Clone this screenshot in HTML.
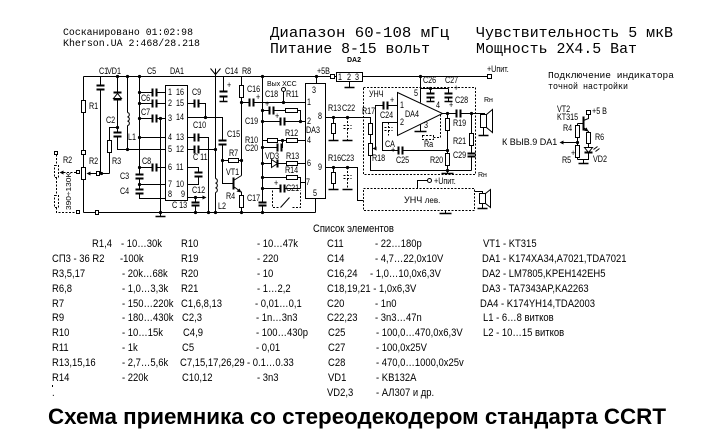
<!DOCTYPE html>
<html><head><meta charset="utf-8"><style>
html,body{margin:0;padding:0;background:#fff}
svg{display:block}
text{fill:#000;font-family:"Liberation Sans","DejaVu Sans",sans-serif}
.t{font-size:9px;transform:scaleX(.8);transform-box:fill-box;transform-origin:0 0}
.u{font-size:9px}
.x{font-size:7px}
.s{font-size:11px;transform:scaleX(.86);transform-box:fill-box;transform-origin:0 0}
.m{font-family:"Liberation Mono","DejaVu Sans Mono",monospace}
</style></head><body>
<svg width="724" height="435" viewBox="0 0 724 435" xmlns="http://www.w3.org/2000/svg">
<rect width="724" height="435" fill="#fff"/>
<!-- header -->
<text class="m" x="63" y="35" font-size="10" textLength="130" lengthAdjust="spacingAndGlyphs">Сосканировано 01:02:98</text>
<text class="m" x="63" y="46" font-size="10" textLength="137" lengthAdjust="spacingAndGlyphs">Kherson.UA 2:468/28.218</text>
<text class="m" x="270" y="37" font-size="14.8" textLength="179" lengthAdjust="spacingAndGlyphs">Диапазон  60-108 мГц</text>
<text class="m" x="476" y="37" font-size="14.8" textLength="197" lengthAdjust="spacingAndGlyphs">Чувствительность 5 мкВ</text>
<text class="m" x="270" y="53" font-size="14.8" textLength="160" lengthAdjust="spacingAndGlyphs">Питание 8-15 вольт</text>
<text class="m" x="476" y="53" font-size="14.8" textLength="161" lengthAdjust="spacingAndGlyphs">Мощность 2Х4.5 Ват</text>
<text class="m" x="548" y="78" font-size="9.5" textLength="126" lengthAdjust="spacingAndGlyphs">Подключение индикатора</text>
<text class="m" x="548" y="89" font-size="9.5" textLength="80" lengthAdjust="spacingAndGlyphs">точной настройки</text>

<g transform="translate(0.5,0.5)" stroke="#000" fill="none" stroke-width="1">
<!-- wires -->
<path d="M83,76H330 M334,76H336 M362,76H487
M83,76V212 M83,212H315
M100,76V85 M100,89V173 M90,173H96 M99,173H109
M117,76V91 M117,99V132 M117,136V149H165 M117,127H109V173
M127,76V112 M127,125V149
M139,76V174 M139,178V189 M139,193V198H165
M139,92H152 M156,92H165 M139,103H152 M156,103H165 M139,118H152 M156,118H165 M160,118V216
M139,137H165 M139,167H152 M156,167H165 M139,184H165
M187,103H194 M198,103H205V117 M187,117H222V140 M187,137H194 M198,137H208V212
M187,149H194 M198,149H215 M187,167H198V172 M198,176V184H187 M187,197H203 M195,197V202 M195,205V212
M215,68V76 M210,68L215,74 M220,68L215,74 M215,76V178 M215,192V212
M223,76V91 M223,96V101
M241,76V85 M241,97V175 M241,102H249 M253,102H305 M283,91V102
M262,76V202 M262,205V212
M262,110H269 M273,110H285 M297,110H300V121
M262,121H280 M284,121H305
M262,140H267 M277,140H286 M297,140H305
M262,147H277 M281,147H282V140
M262,163H271 M277,163H286 M297,163H305
M262,177H286 M297,177H300V188 M300,182H305
M262,188H280 M284,188H300
M316,76V83 M315,198V212
M222,144V183H233 M222,160H228 M238,160H241 M233,180L241,175 M233,186L240,191 M241,191V195 M241,207V212
M325,117H370V123 M333,117V123 M333,133V140 M370,134V143 M370,155V170H471
M325,167H357V200H363 M333,167V172 M333,183V189
M349,81V87
M420,76V102 M420,88H448 M430,88V93 M430,97V101 M448,88V93 M448,97V101 M420,124V131
M397,105H387 M383,105H375V148
M397,122H382V150H398 M402,150H447
M442,113H456 M460,113H484V114 M447,113V118 M447,130V153 M447,165V173 M471,113V133 M471,145V153 M471,156V170
M483,127V135
M427,180H417V188 M445,210V213 M474,191H482V193 M482,203V208
M588,114V118L583,120 M583,127L588,131V132 M588,143V147 M588,152V159H577 M577,157V159 M583,159V163
M577,123H583 M577,123V125 M577,137V145 M577,142H563"/>
<!-- ground bars -->
<path stroke-width="1.5" d="M328,140H338 M342,140H352 M328,189H338 M342,189H352 M344,87H354 M426,101H434 M444,101H452 M414,131H426 M441,173H453 M478,135H488 M439,213H451 M477,208H487 M578,163H588 M155,216H165 M219,101H227"/>
<!-- capacitor plates -->
<path stroke-width="2" d="M96,85H104 M96,89H104 M113,132H121 M113,136H121
M152,88V96 M156,88V96 M152,99V107 M156,99V107 M152,114V122 M156,114V122 M152,163V171 M156,163V171
M135,174H143 M135,178H143 M135,189H143 M135,193H143
M194,99V107 M198,99V107 M194,133V141 M198,133V141 M194,145V153 M198,145V153
M194,172H202 M194,176H202 M191,202H199 M191,205H199
M218,140H226 M218,144H226 M219,91H227 M219,96H227
M249,98V106 M253,98V106 M269,106V114 M273,106V114 M280,117V125 M284,117V125 M277,143V151 M281,143V151 M280,184V192 M284,184V192
M258,202H266 M258,205H266
M426,93H434 M426,97H434 M444,93H452 M444,97H452
M383,101V109 M387,101V109 M398,146V154 M402,146V154 M456,109V117 M460,109V117 M467,153H475 M467,156H475
M233,177V189 M583,116V130 M277,159V167 M113,92H121 M113,99H121 M584,152H592"/>
<!-- resistors -->
<g fill="#fff">
<rect x="81" y="100" width="4" height="12"/><rect x="81" y="167" width="4" height="12"/><rect x="107" y="140" width="4" height="12"/>
<rect x="239" y="85" width="4" height="12"/><rect x="228" y="158" width="10" height="4"/><rect x="239" y="195" width="4" height="12"/>
<rect x="285" y="108" width="12" height="4"/><rect x="267" y="138" width="10" height="4"/><rect x="286" y="138" width="11" height="4"/>
<rect x="286" y="161" width="11" height="4"/><rect x="286" y="175" width="11" height="4"/>
<rect x="331" y="123" width="4" height="10"/><rect x="331" y="172" width="4" height="11"/><rect x="368" y="123" width="4" height="11"/><rect x="368" y="143" width="4" height="12"/>
<rect x="445" y="118" width="4" height="12"/><rect x="445" y="153" width="4" height="12"/><rect x="469" y="133" width="4" height="12"/>
<rect x="575" y="125" width="4" height="12"/><rect x="575" y="145" width="4" height="12"/><rect x="586" y="132" width="4" height="11"/>
<!-- boxes -->
<rect x="165" y="85" width="22" height="115"/>
<rect x="305" y="83" width="20" height="115"/>
<rect x="336" y="72" width="26" height="9"/>
<polygon points="397,92 442,113 397,135"/>
<rect x="480" y="114" width="6" height="13"/><polygon points="486,114 492,109 492,132 486,127"/>
<rect x="479" y="193" width="6" height="10"/><polygon points="485,193 490,189 490,207 485,203"/>
<!-- small squares -->
<rect x="330" y="74" width="4" height="4"/><rect x="487" y="74" width="4" height="4"/><rect x="81" y="150" width="4" height="4"/>
<rect x="96" y="171" width="3" height="4"/><rect x="95" y="210" width="3" height="4"/><rect x="586" y="110" width="4" height="4"/>
<rect x="54" y="151" width="3" height="3"/><rect x="76" y="170" width="3" height="3"/><rect x="76" y="210" width="3" height="3"/>
<circle cx="283" cy="89" r="2"/><circle cx="429" cy="180" r="2"/>
</g>
<!-- coils -->
<path d="M127,112a2.2,2.2 0 0 1 0,4.33a2.2,2.2 0 0 1 0,4.33a2.2,2.2 0 0 1 0,4.34 M215,178a2.4,2.4 0 0 1 0,4.67a2.4,2.4 0 0 1 0,4.67a2.4,2.4 0 0 1 0,4.66"/>
<!-- diodes -->
<polygon points="113,98 121,98 117,93"/>
<polygon points="271,159 271,167 277,163"/>
<polygon points="584,147 592,147 588,152"/>
<path d="M593,149L597,146 M595,151L599,148"/>
<!-- switch -->
<path d="M280,207L289,197"/>
<!-- dashed -->
<g stroke-dasharray="2,1.5">
<path d="M56,154V165 M56,177V195 M56,207V212H76 M63,172H76"/>
<rect x="54" y="165" width="4" height="12"/><rect x="54" y="195" width="4" height="12"/>
<path d="M347,117V125 M347,128V140 M343,125H351 M343,128H351 M347,167V175 M347,178V189 M343,175H351 M343,178H351"/>
<path d="M388,122V127 M384,127H392 M384,130H392 M388,130V135"/>
<rect x="422" y="135" width="11" height="4"/><path d="M433,137H440V114"/>
<path d="M272,190V207H279 M292,207H300V190"/>
<rect x="363" y="87" width="112" height="87"/>
<rect x="363" y="188" width="111" height="22"/>
</g>
</g>
<!-- dots and arrows -->
<g fill="#000" transform="translate(0.5,0.5)">
<circle cx="117" cy="76" r="1.6"/><circle cx="127" cy="76" r="1.6"/><circle cx="139" cy="76" r="1.6"/><circle cx="262" cy="76" r="1.6"/><circle cx="316" cy="76" r="1.6"/><circle cx="420" cy="76" r="1.6"/>
<circle cx="117" cy="127" r="1.6"/><circle cx="127" cy="149" r="1.6"/><circle cx="139" cy="92" r="1.6"/><circle cx="139" cy="103" r="1.6"/><circle cx="139" cy="118" r="1.6"/><circle cx="139" cy="137" r="1.6"/><circle cx="139" cy="167" r="1.6"/><circle cx="139" cy="184" r="1.6"/>
<circle cx="160" cy="118" r="1.6"/><circle cx="101" cy="173" r="1.6"/><circle cx="205" cy="117" r="1.6"/><circle cx="215" cy="149" r="1.6"/><circle cx="195" cy="197" r="1.6"/>
<circle cx="195" cy="212" r="1.6"/><circle cx="208" cy="212" r="1.6"/><circle cx="215" cy="212" r="1.6"/><circle cx="241" cy="212" r="1.6"/><circle cx="262" cy="212" r="1.6"/><circle cx="160" cy="212" r="1.6"/>
<circle cx="241" cy="102" r="1.6"/><circle cx="283" cy="102" r="1.6"/><circle cx="241" cy="160" r="1.6"/><circle cx="222" cy="160" r="1.6"/>
<circle cx="262" cy="110" r="1.6"/><circle cx="262" cy="121" r="1.6"/><circle cx="262" cy="147" r="1.6"/><circle cx="262" cy="163" r="1.6"/><circle cx="262" cy="177" r="1.6"/><circle cx="262" cy="188" r="1.6"/>
<circle cx="300" cy="121" r="1.6"/><circle cx="282" cy="140" r="1.6"/><circle cx="333" cy="117" r="1.6"/><circle cx="347" cy="117" r="1.6"/><circle cx="333" cy="167" r="1.6"/><circle cx="347" cy="167" r="1.6"/>
<circle cx="430" cy="88" r="1.6"/><circle cx="447" cy="113" r="1.6"/><circle cx="471" cy="113" r="1.6"/><circle cx="447" cy="150" r="1.6"/><circle cx="447" cy="170" r="1.6"/><circle cx="577" cy="142" r="1.6"/>
<polygon points="86,173 90,171 90,175"/>
<polygon points="59,172 63,170 63,174"/>
<polygon points="206,197 202,195 202,199"/>
<polygon points="241,192 236,191 239,188"/>
<polygon points="372,148 376,146 376,150"/>
<polygon points="588,131 583,130 586,127"/>
<polygon points="559,142 563,140 563,144"/>
</g>

<!-- schematic labels -->
<g>
<text class="t" x="99" y="74">C1</text><text class="t" x="107" y="74">VD1</text><text class="t" x="147" y="74">C5</text><text class="t" x="170" y="74">DA1</text>
<text class="t" x="225" y="74">C14</text><text class="t" x="242" y="74">R8</text><text class="t" x="317" y="74">+5В</text>
<text class="t" x="89" y="109">R1</text><text class="t" x="106" y="123">C2</text><text class="t" x="89" y="164">R2</text><text class="t" x="112" y="164">R3</text>
<text class="t" x="141" y="101">C6</text><text class="t" x="141" y="115">C7</text><text class="t" x="128" y="140">L1</text><text class="t" x="142" y="164">C8</text>
<text class="t" x="120" y="179">C3</text><text class="t" x="120" y="194">C4</text>
<text class="t" x="63" y="163">R2</text>
<text class="x" transform="translate(71,210) rotate(-90)" textLength="38" lengthAdjust="spacingAndGlyphs">390÷130K</text>
<text class="t" x="168" y="95">1</text><text class="t" x="168" y="106">2</text><text class="t" x="168" y="121">3</text><text class="t" x="168" y="140">4</text>
<text class="t" x="168" y="152">5</text><text class="t" x="168" y="170">6</text><text class="t" x="168" y="187">7</text><text class="t" x="168" y="197">8</text>
<text class="t" x="176" y="95">16</text><text class="t" x="176" y="106">15</text><text class="t" x="176" y="120">14</text><text class="t" x="176" y="140">13</text>
<text class="t" x="176" y="152">12</text><text class="t" x="176" y="170">11</text><text class="t" x="176" y="187">10</text><text class="t" x="181" y="197">9</text>
<text class="t" x="192" y="95">C9</text><text class="t" x="193" y="128">C10</text><text class="t" x="193" y="160">C 11</text><text class="t" x="192" y="193">C12</text>
<text class="t" x="172" y="208">C 13</text><text class="t" x="218" y="209">L2</text>
<text class="t" x="227" y="88">+</text>
<text class="t" x="227" y="137">C15</text><text class="t" x="229" y="156">R7</text><text class="t" x="226" y="175">VT1</text><text class="t" x="226" y="199">R4</text>
<text class="t" x="247" y="92">C16</text><text class="t" x="256" y="100">+</text>
<text class="t" x="265" y="97">C18</text><text class="t" x="286" y="97">R11</text><text class="x" x="267" y="86">Вых ХСС</text>
<text class="t" x="265" y="107">+</text><text class="t" x="275" y="119">+</text><text class="t" x="274" y="186">+</text>
<text class="t" x="245" y="124">C19</text><text class="t" x="245" y="143">R10</text><text class="t" x="285" y="136">R12</text><text class="t" x="245" y="151">C20</text>
<text class="t" x="265" y="159">VD3</text><text class="t" x="286" y="159">R13</text><text class="t" x="285" y="173">R14</text><text class="t" x="286" y="191">C21</text>
<text class="t" x="247" y="201">C17</text>
<text class="t" x="312" y="93">3</text><text class="t" x="307" y="105">1</text><text class="t" x="307" y="124">2</text><text class="t" x="306" y="133">DA3</text>
<text class="t" x="307" y="143">4</text><text class="t" x="307" y="166">6</text><text class="t" x="306" y="185">7</text><text class="t" x="313" y="196">5</text>
<text class="t" x="318" y="119">8</text><text class="t" x="318" y="170">9</text>
<text class="t" x="338" y="80">1</text><text class="t" x="347" y="80">2</text><text class="t" x="355" y="80">3</text>
<text class="x" x="347" y="62" font-weight="bold">DA2</text>
<text class="t" x="328" y="111">R13</text><text class="t" x="342" y="111">C22</text><text class="t" x="328" y="161">R16</text><text class="t" x="341" y="161">C23</text>
<text class="t" x="362" y="114">R17</text><text class="t" x="372" y="161">R18</text>
<text class="t" x="369" y="97">УНЧ</text><text class="t" x="414" y="96">5</text><text class="t" x="423" y="83">C26</text><text class="t" x="445" y="83">C27</text><text class="t" x="454" y="91">+</text>
<text class="t" x="400" y="108">1</text><text class="t" x="400" y="125">2</text><text class="t" x="405" y="117">DA4</text><text class="t" x="436" y="108">4</text><text class="t" x="424" y="128">3</text>
<text class="t" x="390" y="103">+</text><text class="t" x="380" y="118">C24</text><text class="t" x="385" y="147">CA</text><text class="t" x="424" y="147">Rа</text>
<text class="t" x="391" y="153">+</text><text class="t" x="396" y="163">C25</text><text class="t" x="430" y="163">R20</text>
<text class="t" x="453" y="126">R19</text><text class="t" x="453" y="144">R21</text><text class="t" x="453" y="158">C29</text>
<text class="t" x="449" y="108">+</text><text class="t" x="455" y="103">C28</text><text class="x" x="484" y="102">Rн</text>
<text class="t" x="487" y="72">+Uпит.</text>
<text class="u" x="502" y="145">К ВЫВ.9 DA1</text>
<text class="x" x="478" y="177">Rн</text><text class="t" x="434" y="184">+Uпит.</text>
<text class="u" x="404" y="203">УНЧ <tspan font-size="8">лев.</tspan></text>
<text class="t" x="557" y="112">VT2</text><text class="t" x="557" y="120">KT315</text><text class="t" x="592" y="114">+5 B</text>
<text class="t" x="563" y="131">R4</text><text class="t" x="595" y="140">R6</text><text class="t" x="562" y="163">R5</text><text class="t" x="571" y="156">+</text><text class="t" x="593" y="162">VD2</text>
</g>

<!-- component list -->
<g>
<text class="s" x="313" y="232">Список  элементов</text>
<text class="s" x="92" y="247">R1,4</text><text class="s" x="121" y="247">- 10…30k</text><text class="s" x="181" y="247">R10</text><text class="s" x="257" y="247">- 10…47k</text><text class="s" x="327" y="247">C11</text><text class="s" x="375" y="247">- 22…180p</text><text class="s" x="483" y="247">VT1 - KT315</text>
<text class="s" x="52" y="262">СП3 - 36  R2</text><text class="s" x="120" y="262">-100k</text><text class="s" x="181" y="262">R19</text><text class="s" x="257" y="262">- 220</text><text class="s" x="327" y="262">C14</text><text class="s" x="375" y="262">- 4,7…22,0x10V</text><text class="s" x="482" y="262">DA1 - K174XA34,A7021,TDA7021</text>
<text class="s" x="52" y="277">R3,5,17</text><text class="s" x="122" y="277">- 20k…68k</text><text class="s" x="181" y="277">R20</text><text class="s" x="257" y="277">- 10</text><text class="s" x="327" y="277">C16,24</text><text class="s" x="370" y="277">- 1,0…10,0x6,3V</text><text class="s" x="482" y="277">DA2 - LM7805,KPEH142EH5</text>
<text class="s" x="52" y="292">R6,8</text><text class="s" x="122" y="292">- 1,0…3,3k</text><text class="s" x="181" y="292">R21</text><text class="s" x="257" y="292">- 1…2,2</text><text class="s" x="327" y="292">C18,19,21 - 1,0x6,3V</text><text class="s" x="482" y="292">DA3 - TA7343AP,KA2263</text>
<text class="s" x="52" y="307">R7</text><text class="s" x="122" y="307">- 150…220k</text><text class="s" x="181" y="307">C1,6,8,13</text><text class="s" x="255" y="307">- 0,01…0,1</text><text class="s" x="327" y="307">C20</text><text class="s" x="375" y="307">- 1n0</text><text class="s" x="480" y="307">DA4 - K174YH14,TDA2003</text>
<text class="s" x="52" y="321">R9</text><text class="s" x="122" y="321">- 180…430k</text><text class="s" x="182" y="321">C2,3</text><text class="s" x="256" y="321">- 1n…3n3</text><text class="s" x="327" y="321">C22,23</text><text class="s" x="375" y="321">- 3n3…47n</text><text class="s" x="483" y="321">L1  - 6…8 витков</text>
<text class="s" x="52" y="336">R10</text><text class="s" x="122" y="336">- 10…15k</text><text class="s" x="183" y="336">C4,9</text><text class="s" x="256" y="336">- 100…430p</text><text class="s" x="328" y="336">C25</text><text class="s" x="376" y="336">- 100,0…470,0x6,3V</text><text class="s" x="483" y="336">L2  - 10…15 витков</text>
<text class="s" x="52" y="351">R11</text><text class="s" x="122" y="351">- 1k</text><text class="s" x="182" y="351">C5</text><text class="s" x="256" y="351">- 0,01</text><text class="s" x="328" y="351">C27</text><text class="s" x="376" y="351">- 100,0x25V</text>
<text class="s" x="52" y="366">R13,15,16</text><text class="s" x="122" y="366">- 2,7…5,6k</text><text class="s" x="180" y="366">C7,15,17,26,29</text><text class="s" x="247" y="366">- 0.1…0.33</text><text class="s" x="328" y="366">C28</text><text class="s" x="376" y="366">- 470,0…1000,0x25v</text>
<text class="s" x="52" y="381">R14</text><text class="s" x="122" y="381">- 220k</text><text class="s" x="182" y="381">C10,12</text><text class="s" x="257" y="381">- 3n3</text><text class="s" x="328" y="381">VD1</text><text class="s" x="376" y="381">- KB132A</text>
<rect x="52" y="385" width="1" height="2" fill="#000"/>
<text class="s" x="52" y="396">.</text><text class="s" x="327" y="396">VD2,3</text><text class="s" x="376" y="396">- АЛ307  и др.</text>
</g>

<text x="48" y="424" font-size="22.5" font-weight="bold" textLength="618" lengthAdjust="spacingAndGlyphs">Схема приемника со стереодекодером стандарта CCRT</text>
</svg>
</body></html>
